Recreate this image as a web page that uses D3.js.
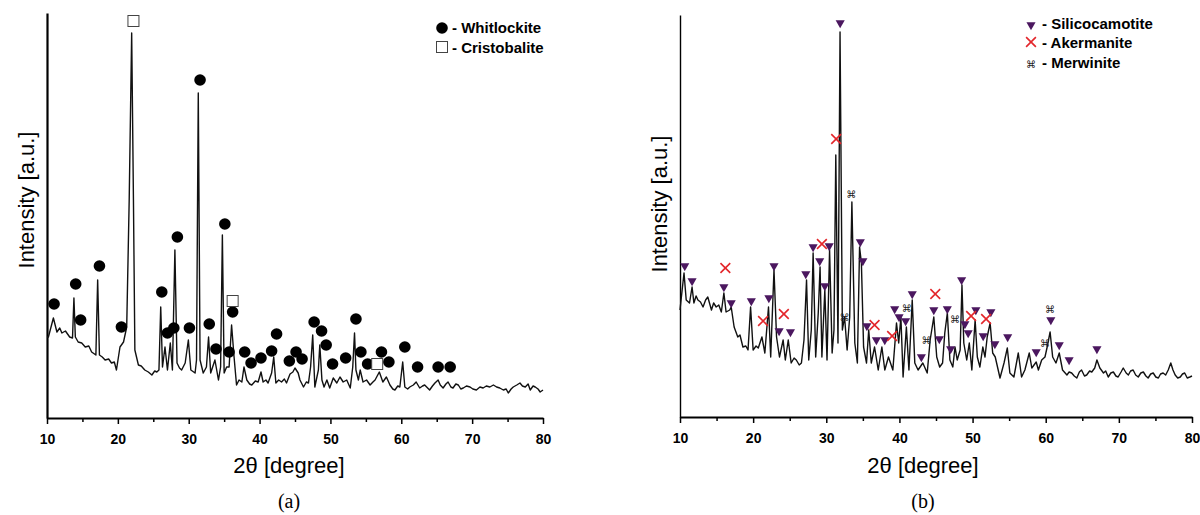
<!DOCTYPE html>
<html>
<head>
<meta charset="utf-8">
<script src="https://cdn.jsdelivr.net/npm/d3@7"></script>
<style>
  body { margin: 0; background: #fff; }
  svg { display: block; font-family: "Liberation Sans", Arial, sans-serif; }
  .tick text { font-weight: bold; font-size: 14px; }
</style>
</head>
<body>
<svg id="chart" width="1200" height="515"></svg>
<script>
// ---- panel (a) : [2theta, intensity a.u.]
const patternA = [
  [10.0,81],[10.2,81],[10.9,100],[11.4,86],[11.8,90],[12.1,85],[12.6,87],[13.2,81],[13.6,80],[13.8,120],
  [14.0,81],[14.4,76],[14.9,75],[15.4,71],[15.9,72],[16.3,66],[16.9,63],[17.15,138],[17.4,63],[17.8,61],
  [18.2,58],[18.7,59],[19.1,55],[19.5,56],[19.8,48],[20.3,71],[20.8,76],[21.25,91],[21.6,218],[21.95,385],
  [22.2,218],[22.4,68],[22.9,53],[23.3,52],[23.8,48],[24.3,46],[24.8,43],[25.2,47],[25.5,46],[25.8,48],
  [26.05,111],[26.3,51],[26.65,71],[27.0,48],[27.4,75],[27.7,48],[28.05,168],[28.35,55],[28.7,50],[29.0,48],
  [29.5,55],[29.95,78],[30.3,48],[30.9,45],[31.1,58],[31.35,325],[31.6,58],[32.05,45],[32.5,51],[32.8,81],
  [33.1,45],[33.7,58],[34.2,38],[34.5,51],[34.75,183],[35.0,45],[35.35,51],[35.7,51],[36.05,93],[36.4,61],
  [36.75,33],[37.1,38],[37.5,36],[37.8,51],[38.2,38],[38.6,34],[38.9,33],[39.4,37],[39.8,36],[40.2,46],
  [40.5,36],[40.9,38],[41.2,35],[41.7,45],[42.0,61],[42.3,35],[42.7,38],[43.1,36],[43.5,39],[43.8,35],
  [44.3,44],[44.7,46],[45.0,50],[45.45,45],[45.7,38],[46.2,31],[46.6,36],[46.9,35],[47.2,51],[47.5,83],
  [47.8,31],[48.3,48],[48.5,73],[48.8,38],[49.1,31],[49.5,38],[49.9,30],[50.4,40],[50.9,35],[51.35,41],
  [51.8,36],[52.3,38],[52.8,30],[53.15,51],[53.4,85],[53.6,48],[53.95,38],[54.2,48],[54.6,36],[55.1,38],
  [55.6,33],[56.0,36],[56.3,38],[56.9,46],[57.4,36],[57.9,41],[58.4,33],[58.8,29],[59.1,28],[59.5,32],
  [59.8,31],[60.2,56],[60.5,31],[60.9,29],[61.2,31],[61.7,33],[62.1,36],[62.6,30],[63.0,32],[63.3,33],
  [64.0,28],[64.4,32],[64.75,35],[65.2,38],[65.5,33],[65.9,30],[66.3,34],[66.6,36],[67.0,31],[67.3,30],
  [67.7,34],[68.05,33],[68.4,29],[68.75,30],[69.2,32],[69.7,31],[70.1,29],[70.6,28],[71.1,31],[71.55,30],
  [72.0,32],[72.5,31],[73.0,33],[73.45,31],[73.9,30],[74.4,28],[74.8,29],[75.1,25],[75.5,29],[75.8,31],
  [76.3,33],[76.75,35],[77.1,32],[77.5,31],[77.9,34],[78.2,28],[78.6,32],[78.9,31],[79.3,29],[79.6,26],[80.0,28]
];
const whitlockite = [
  [11.0,114],[14.05,134],[14.75,98],[17.4,152],[20.5,91],[26.2,126],[27.0,85],[27.9,90],[28.4,181],[30.1,90],
  [31.6,338],[32.9,94],[33.85,69],[35.1,194],[35.7,66],[36.2,106],[37.9,66],[38.8,55],[40.2,60],[41.7,67],
  [42.4,84],[44.2,57],[45.15,66],[46.0,59],[47.7,96],[48.75,87],[49.4,73],[50.3,54],[52.15,60],[53.6,99],
  [54.3,66],[55.25,54],[57.2,66],[58.25,56],[60.5,71],[62.3,51],[65.2,51],[66.9,51]
];
const cristobalite = [[22.2,397],[36.2,117],[56.6,54]];

// ---- panel (b)
const patternB = [
  [10.0,107],[10.1,114],[10.55,144],[10.85,117],[11.3,114],[11.65,130],[11.9,114],[12.2,121],[12.45,117],[12.8,115],
  [13.15,110],[13.5,117],[13.8,120],[14.3,107],[14.6,114],[14.95,110],[15.3,112],[15.65,105],[16.0,124],[16.3,105],
  [16.8,107],[17.0,110],[17.4,90],[17.9,80],[18.2,82],[18.6,70],[19.0,71],[19.3,67],[19.65,110],[20.0,67],
  [20.4,71],[20.7,69],[21.2,80],[21.6,64],[22.1,110],[22.4,60],[22.85,147],[23.2,80],[23.6,60],[24.1,77],
  [24.4,57],[24.8,77],[25.2,54],[25.6,59],[25.9,57],[26.3,52],[26.6,54],[26.95,77],[27.3,137],[27.6,57],
  [27.95,87],[28.2,164],[28.55,60],[28.9,104],[29.15,150],[29.4,60],[29.8,127],[30.1,57],[30.45,167],[30.8,64],
  [31.05,87],[31.3,262],[31.6,74],[31.88,385],[32.2,87],[32.5,100],[32.85,67],[33.2,100],[33.5,215],[33.9,74],
  [34.25,54],[34.55,170],[34.8,154],[35.1,70],[35.5,54],[35.8,87],[36.15,54],[36.6,70],[37.1,47],[37.6,70],
  [38.0,47],[38.5,60],[39.1,47],[39.6,94],[39.9,74],[40.2,100],[40.5,40],[40.95,90],[41.3,47],[41.75,117],
  [42.1,54],[42.55,47],[43.2,54],[43.8,44],[44.2,77],[44.7,100],[45.1,60],[45.5,50],[45.9,54],[46.2,84],
  [46.55,104],[46.9,57],[47.3,50],[47.6,70],[47.9,57],[48.3,67],[48.55,132],[48.8,74],[49.2,57],[49.55,74],
  [49.9,47],[50.35,97],[50.65,60],[51.0,50],[51.4,70],[51.7,60],[52.0,80],[52.4,94],[52.75,64],[53.1,60],
  [53.75,39],[54.3,54],[54.75,69],[55.1,44],[55.65,40],[56.25,64],[56.7,40],[57.15,47],[57.75,64],[58.1,49],
  [58.7,55],[59.0,47],[59.45,57],[59.9,60],[60.2,70],[60.6,85],[60.95,60],[61.4,54],[61.85,64],[62.3,47],
  [62.9,42],[63.2,45],[63.55,44],[63.9,41],[64.25,39],[64.6,45],[64.9,47],[65.3,41],[65.6,42],[66.0,46],
  [66.3,45],[66.7,49],[67.0,57],[67.4,49],[67.9,44],[68.2,46],[68.55,40],[68.9,44],[69.25,45],[69.6,41],
  [69.9,40],[70.3,45],[70.6,49],[71.0,44],[71.3,42],[71.6,46],[71.95,47],[72.3,42],[72.65,40],[73.0,44],
  [73.35,45],[73.7,41],[74.0,39],[74.35,43],[74.7,44],[75.05,40],[75.4,39],[75.7,43],[76.05,44],[76.4,42],
  [76.75,47],[77.1,54],[77.4,47],[77.7,42],[78.05,39],[78.4,40],[78.7,43],[79.0,44],[79.35,39],[79.7,40],[80.0,41]
];
const silicocamotite = [
  [10.65,151],[11.65,136],[16.0,130],[17.0,114],[19.75,116],[22.15,119],[22.85,151],[23.55,86],[25.1,85],[27.2,143],
  [28.2,170],[29.1,156],[29.8,131],[30.4,171],[31.9,394],[34.65,175],[35.0,156],[35.55,91],[36.85,77],[38.0,77],
  [39.35,108],[39.95,100],[40.85,96],[41.75,123],[43.0,60],[44.7,107],[45.45,78],[46.55,108],[47.0,68],[48.5,137],
  [48.95,93],[49.4,84],[50.45,107],[51.45,81],[52.5,105],[53.05,73],[54.8,80],[58.7,65],[60.7,97],[61.85,72],
  [63.2,57],[67.0,68]
];
const akermanite = [
  [16.2,149],[21.35,96],[24.2,103],[29.4,173],[31.35,278],[36.6,92],[39.0,81],[44.9,123],[49.8,101],[51.85,98]
];
const merwinite = [[32.5,100],[33.4,223],[41.0,109],[43.7,77],[47.6,98],[59.9,74],[60.6,108]];

const majorTicks = [10, 20, 30, 40, 50, 60, 70, 80];
const minorTicks = [15, 25, 35, 45, 55, 65, 75];
const xTitle = "2\u03b8 [degree]";
const yTitle = "Intensity [a.u.]";

const svg = d3.select("#chart");

function drawPanel(p) {
  let x = d3.scaleLinear().domain([10, 80]).range(p.xRange);
  let y = d3.scaleLinear().domain([0, p.yMax]).range(p.yRange);
  let g = svg.append("g");

  // minor ticks first, then labelled major ticks on top
  g.append("g")
    .attr("transform", "translate(0," + p.yRange[0] + ")")
    .call(d3.axisBottom(x).tickValues(minorTicks).tickSize(4).tickFormat(""))
    .call(a => a.select(".domain").remove())
    .selectAll("line").attr("stroke-width", 1.5);
  let xa = g.append("g")
    .attr("transform", "translate(0," + p.yRange[0] + ")")
    .call(d3.axisBottom(x).tickValues(majorTicks).tickSize(6).tickSizeOuter(0).tickPadding(10).tickFormat(d3.format("d")));
  xa.select(".domain").attr("stroke-width", 2);
  xa.selectAll(".tick line").attr("stroke-width", 1.5);

  g.append("g")
    .attr("transform", "translate(" + p.xRange[0] + ",0)")
    .call(d3.axisLeft(y).tickValues([]).tickSizeOuter(0))
    .select(".domain").attr("stroke-width", p.yAxisWidth);

  g.append("path")
    .datum(p.pattern)
    .attr("fill", "none")
    .attr("stroke", "#111")
    .attr("stroke-width", 1.4)
    .attr("stroke-linejoin", "round")
    .attr("d", d3.line().x(d => x(d[0])).y(d => y(d[1])));

  g.append("text")
    .attr("x", p.titleX).attr("y", 473)
    .attr("text-anchor", "middle")
    .style("font-size", "22px")
    .text(xTitle);
  g.append("text")
    .attr("transform", "translate(" + p.yTitleX + "," + p.yTitleY + ") rotate(-90)")
    .attr("text-anchor", "middle")
    .style("font-size", "22px")
    .text(yTitle);
  g.append("text")
    .attr("x", p.titleX).attr("y", 508)
    .attr("text-anchor", "middle")
    .style("font-family", "'Liberation Serif', 'Times New Roman', serif")
    .style("font-size", "20px")
    .text(p.caption);

  return { g: g, x: x, y: y };
}

// ---------- panel (a)
let A = drawPanel({
  pattern: patternA, xRange: [47, 543], yRange: [418, 13], yMax: 405,
  yAxisWidth: 2.2, titleX: 289, yTitleX: 34, yTitleY: 200, caption: "(a)"
});

A.g.append("g").selectAll("circle").data(whitlockite).join("circle")
  .attr("cx", d => A.x(d[0])).attr("cy", d => A.y(d[1]))
  .attr("r", 5.8).attr("fill", "#000");
A.g.append("g").selectAll("rect").data(cristobalite).join("rect")
  .attr("x", d => A.x(d[0]) - 5.5).attr("y", d => A.y(d[1]) - 5.5)
  .attr("width", 11).attr("height", 11)
  .attr("fill", "#fff").attr("stroke", "#444").attr("stroke-width", 1);

let legA = A.g.append("g").style("font-size", "15px").style("font-weight", "bold");
legA.append("circle").attr("cx", 442).attr("cy", 28).attr("r", 5.8).attr("fill", "#000");
legA.append("text").attr("x", 452).attr("y", 33).text("- Whitlockite");
legA.append("rect").attr("x", 436.5).attr("y", 41.5).attr("width", 11).attr("height", 11)
  .attr("fill", "#fff").attr("stroke", "#444");
legA.append("text").attr("x", 452).attr("y", 53).text("- Cristobalite");

// ---------- panel (b)
let B = drawPanel({
  pattern: patternB, xRange: [680, 1192], yRange: [417, 15], yMax: 402,
  yAxisWidth: 1.4, titleX: 923, yTitleX: 667, yTitleY: 204, caption: "(b)"
});

const purple = "#4b175f", red = "#e3262b";
const tri = d3.symbol(d3.symbolTriangle, 36);
const cross = d3.symbol(d3.symbolTimes, 64);

B.g.append("g").selectAll("path").data(silicocamotite).join("path")
  .attr("transform", d => "translate(" + B.x(d[0]) + "," + B.y(d[1]) + ") rotate(180)")
  .attr("d", tri).attr("fill", purple);
B.g.append("g").selectAll("path").data(akermanite).join("path")
  .attr("transform", d => "translate(" + B.x(d[0]) + "," + B.y(d[1]) + ")")
  .attr("d", cross).attr("fill", "none").attr("stroke", red).attr("stroke-width", 1.6);
B.g.append("g").selectAll("text").data(merwinite).join("text")
  .attr("x", d => B.x(d[0])).attr("y", d => B.y(d[1]) + 3.5)
  .attr("text-anchor", "middle")
  .style("font-family", "'DejaVu Sans', sans-serif")
  .style("font-size", "10px").attr("fill", "#222")
  .text("\u2318");

let legB = B.g.append("g").style("font-size", "15px").style("font-weight", "bold");
legB.append("path").attr("transform", "translate(1031,25) rotate(180)").attr("d", tri).attr("fill", purple);
legB.append("text").attr("x", 1042).attr("y", 29).text("- Silicocamotite");
legB.append("path").attr("transform", "translate(1031,42)").attr("d", cross)
  .attr("fill", "none").attr("stroke", red).attr("stroke-width", 1.6);
legB.append("text").attr("x", 1042).attr("y", 48).text("- Akermanite");
legB.append("text").attr("x", 1031).attr("y", 68).attr("text-anchor", "middle")
  .style("font-family", "'DejaVu Sans', sans-serif").style("font-size", "10px")
  .style("font-weight", "normal").attr("fill", "#222").text("\u2318");
legB.append("text").attr("x", 1042).attr("y", 68).text("- Merwinite");
</script>
</body>
</html>
